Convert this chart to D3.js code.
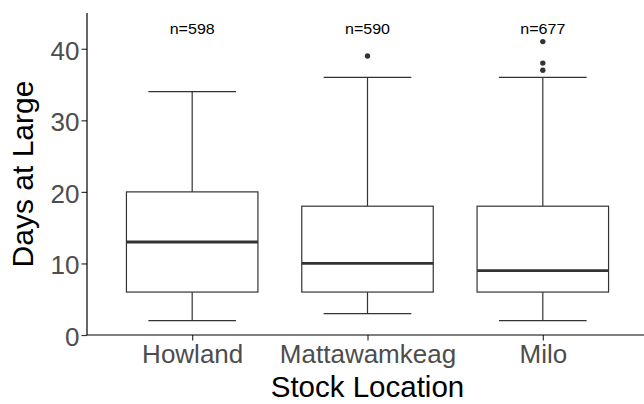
<!DOCTYPE html>
<html>
<head>
<meta charset="utf-8">
<script src="https://cdn.jsdelivr.net/npm/d3@7"></script>
<style>
  body { margin: 0; background: #fff; }
  text { font-family: "Liberation Sans", Arial, sans-serif; }
</style>
</head>
<body>
<div id="chart"></div>
<script>
// categories and box stats
const locations = ["Howland", "Mattawamkeag", "Milo"];
const counts = [598, 590, 677];
const whiskerLow = [2, 3, 2];
const q1 = [6, 6, 6];
const median = [13, 10, 9];
const q3 = [20, 18, 18];
const whiskerHigh = [34, 36, 36];
const outliers = [[], [39], [37, 38, 41]];
const yTicks = [0, 10, 20, 30, 40];

const width = 644, height = 404;
const margin = {top: 13, bottom: 69, left: 87};

const svg = d3.select("#chart").append("svg")
  .attr("width", width)
  .attr("height", height);

// discrete axis: positions 1..n with ggplot's 0.6 expansion (panel runs past the right edge)
const x = d3.scaleLinear()
  .domain([0.4, locations.length + 0.6])
  .range([margin.left, 648]);

const y = d3.scaleLinear()
  .domain([0, 45])
  .range([height - margin.bottom, margin.top]);

const boxW = 0.75, capW = 0.5;
const ink = "#333333";
const lw = 1.2;
const sx = 1.04; // tick text is a touch wider than plain Arial

const data = locations.map((name, i) => ({
  name, i: i + 1, n: counts[i],
  lo: whiskerLow[i], q1: q1[i], med: median[i], q3: q3[i], hi: whiskerHigh[i],
  out: outliers[i]
}));

const box = svg.append("g").selectAll(".box").data(data).enter()
  .append("g").attr("class", "box");

// whiskers
box.append("line")
  .attr("x1", d => x(d.i)).attr("x2", d => x(d.i))
  .attr("y1", d => y(d.q3)).attr("y2", d => y(d.hi))
  .attr("stroke", ink).attr("stroke-width", lw);
box.append("line")
  .attr("x1", d => x(d.i)).attr("x2", d => x(d.i))
  .attr("y1", d => y(d.q1)).attr("y2", d => y(d.lo))
  .attr("stroke", ink).attr("stroke-width", lw);

// caps
box.append("line")
  .attr("x1", d => x(d.i - capW / 2)).attr("x2", d => x(d.i + capW / 2))
  .attr("y1", d => y(d.hi)).attr("y2", d => y(d.hi))
  .attr("stroke", ink).attr("stroke-width", lw);
box.append("line")
  .attr("x1", d => x(d.i - capW / 2)).attr("x2", d => x(d.i + capW / 2))
  .attr("y1", d => y(d.lo)).attr("y2", d => y(d.lo))
  .attr("stroke", ink).attr("stroke-width", lw);

// boxes
box.append("rect")
  .attr("x", d => x(d.i - boxW / 2))
  .attr("width", d => x(d.i + boxW / 2) - x(d.i - boxW / 2))
  .attr("y", d => y(d.q3))
  .attr("height", d => y(d.q1) - y(d.q3))
  .attr("fill", "#fff").attr("stroke", ink).attr("stroke-width", lw);

// medians
box.append("line")
  .attr("x1", d => x(d.i - boxW / 2)).attr("x2", d => x(d.i + boxW / 2))
  .attr("y1", d => y(d.med)).attr("y2", d => y(d.med))
  .attr("stroke", ink).attr("stroke-width", 2.8);

// outliers
box.each(function(d) {
  d3.select(this).selectAll("circle").data(d.out).enter().append("circle")
    .attr("cx", x(d.i))
    .attr("cy", v => y(v))
    .attr("r", 2.7)
    .attr("fill", ink);
});

// n labels
box.append("text")
  .attr("transform", d => `translate(${x(d.i)},33.5) scale(1.07,1)`)
  .attr("text-anchor", "middle")
  .attr("font-size", 15)
  .attr("fill", "#000")
  .text(d => "n=" + d.n);

// axes
const axisY = svg.append("g")
  .attr("transform", `translate(${margin.left},0)`)
  .call(d3.axisLeft(y).tickValues(yTicks).tickSize(5.5).tickPadding(2));
axisY.select(".domain").remove();
axisY.selectAll(".tick line").attr("stroke", ink).attr("stroke-width", lw);
axisY.selectAll("text")
  .attr("font-size", 25).attr("fill", "#4d4d4d")
  .attr("x", -7.5 / sx).attr("dy", "0.41em")
  .attr("transform", `scale(${sx},1)`)
  .style("font-family", "'Liberation Sans', Arial, sans-serif");

const axisX = svg.append("g")
  .attr("transform", `translate(0,${y(0)})`)
  .call(d3.axisBottom(x).tickValues(data.map(d => d.i))
    .tickFormat(v => locations[v - 1]).tickSize(5.5));
axisX.select(".domain").remove();
axisX.selectAll(".tick line").attr("stroke", ink).attr("stroke-width", lw);
axisX.selectAll("text")
  .attr("font-size", 25).attr("fill", "#4d4d4d")
  .attr("y", 28).attr("dy", 0)
  .attr("transform", `scale(${sx},1)`)
  .style("font-family", "'Liberation Sans', Arial, sans-serif");

// axis lines (theme_classic)
svg.append("line")
  .attr("x1", margin.left).attr("x2", margin.left)
  .attr("y1", y(45)).attr("y2", y(0))
  .attr("stroke", "#000").attr("stroke-width", lw);
svg.append("line")
  .attr("x1", margin.left).attr("x2", width)
  .attr("y1", y(0)).attr("y2", y(0))
  .attr("stroke", "#000").attr("stroke-width", lw);

// titles
svg.append("text")
  .attr("x", (x(0.4) + x(locations.length + 0.6)) / 2).attr("y", 397)
  .attr("text-anchor", "middle")
  .attr("font-size", 29.5).attr("fill", "#000")
  .text("Stock Location");

svg.append("text")
  .attr("transform", `translate(33,${y(22.5)}) rotate(-90)`)
  .attr("text-anchor", "middle")
  .attr("font-size", 30).attr("fill", "#000")
  .text("Days at Large");
</script>
</body>
</html>
